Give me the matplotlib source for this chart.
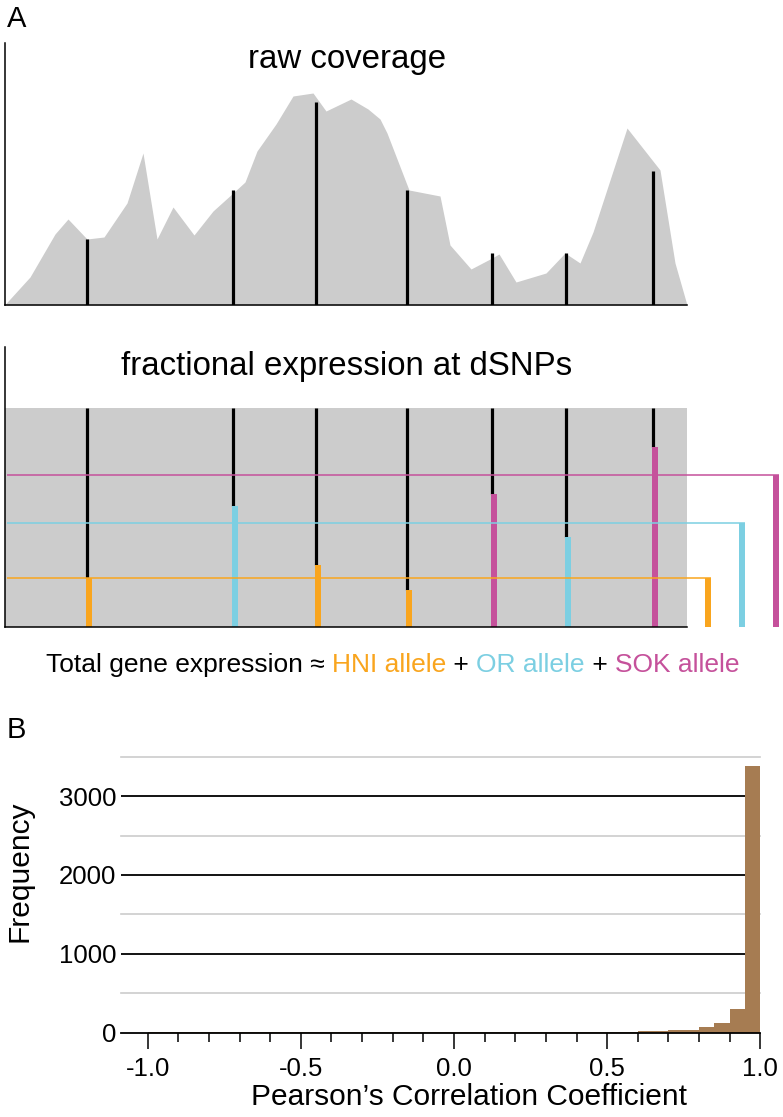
import matplotlib
matplotlib.use("Agg")
import matplotlib.pyplot as plt
import numpy as np

plt.rcParams['font.family'] = ['Liberation Sans', 'DejaVu Sans']
plt.rcParams['axes.unicode_minus'] = False

# ---------------- data ----------------
# raw coverage profile (position along gene, coverage)
cov_x = [0, 25.5, 50.5, 63.5, 82.5, 99.5, 122.5, 138.5, 152.5, 168.5, 189.5, 208.5,
         228.5, 240.5, 252.5, 271.5, 288.5, 308.5, 321.5, 346.5, 363.5, 375.5, 382.5,
         404.5, 435.5, 445.5, 466.5, 487.5, 494.5, 511.5, 541.5, 560.5, 575.5, 588.5,
         622.5, 655.5, 670.5, 682.5]
cov_y = [0, 28, 71, 86, 66, 68, 102, 152, 66, 98, 70, 94,
         112, 123, 154, 181, 209, 212, 194, 206, 196, 186, 172,
         115, 109, 60, 36, 47, 51, 23, 32, 52, 42, 73,
         177, 135, 42, 0]

# dSNP positions and raw coverage at each dSNP
snp_pos = [82.5, 228.5, 311.5, 402.5, 487.5, 561.5, 648.5]
snp_cov = [66, 115, 203, 115, 52, 52, 134]
# allele each dSNP tags and fractional expression
snp_allele = ['HNI', 'OR', 'HNI', 'HNI', 'SOK', 'OR', 'SOK']
snp_frac = [0.224, 0.553, 0.283, 0.169, 0.607, 0.411, 0.822]

alleles = ['HNI', 'OR', 'SOK']
allele_total = [0.222, 0.476, 0.694]
allele_colors = ['#F9A51E', '#7CCFE2', '#C5519B']
allele_bar_x = [703.5, 737.0, 771.0]

# histogram of Pearson correlation coefficients (bin width 0.05)
bin_left = [round(-1.0 + 0.05 * i, 2) for i in range(40)]
counts = [4, 3, 3, 3, 3, 3, 3, 3, 3, 3, 4, 4, 4, 4, 4, 5, 5, 5, 6, 6,
          6, 6, 7, 7, 8, 8, 9, 10, 11, 12,
          12, 8, 20, 20, 38, 38, 76, 123, 297, 3385]

xticks_major = [-1.0, -0.5, 0.0, 0.5, 1.0]
xtick_labels = ['-1.0', '-0.5', '0.0', '0.5', '1.0']
yticks_major = [0, 1000, 2000, 3000]

# ---------------- figure ----------------
W, H = 783, 1117
fig = plt.figure(figsize=(W / 100, H / 100), dpi=100)


def rect(l, t, r, b):
    return [l / W, 1 - b / H, (r - l) / W, (b - t) / H]


gray = '#CCCCCC'

# ---- panel A top: raw coverage ----
ax1 = fig.add_axes(rect(4.5, 43, 687, 305))
ax1.fill_between(cov_x, cov_y, 0, color=gray, lw=0)
ax1.vlines(snp_pos, 0, snp_cov, color='black', lw=2.3)
ax1.set_xlim(0, 682.5)
ax1.set_ylim(0, 262)
for s in ['top', 'right']:
    ax1.spines[s].set_visible(False)
for s in ['left', 'bottom']:
    ax1.spines[s].set_linewidth(1.1)
ax1.set_xticks([])
ax1.set_yticks([])
ax1.patch.set_alpha(0)

# ---- panel A middle: fractional expression ----
ax2 = fig.add_axes(rect(4.5, 347, 687, 627))
ax2.set_xlim(0, 682.5)
ax2.set_ylim(0, 280 / 219)
ax2.fill_between([0.5, 682.5], 0, 1.0, color=gray, lw=0, zorder=1)
col = dict(zip(alleles, allele_colors))
ax2.vlines(snp_pos, snp_frac, 1.0, color='black', lw=2.3, zorder=2)
ax2.bar([p - 1.5 for p in snp_pos], snp_frac, width=6.5, align='edge',
        color=[col[a] for a in snp_allele], lw=0, zorder=2)
for tot, c, bx in zip(allele_total, allele_colors, allele_bar_x):
    ax2.plot([2.5, bx + 3], [tot, tot], color=c, lw=1.1, zorder=3,
             clip_on=False, solid_capstyle='butt')
    ax2.bar([bx - 3], [tot], width=6, align='edge', color=c, lw=0,
            zorder=3, clip_on=False)
for s in ['top', 'right']:
    ax2.spines[s].set_visible(False)
for s in ['left', 'bottom']:
    ax2.spines[s].set_linewidth(1.1)
    ax2.spines[s].set_zorder(4)
ax2.set_xticks([])
ax2.set_yticks([])
ax2.patch.set_alpha(0)

# titles
fig.text(347.5 / W, 1 - 68 / H, 'raw coverage', ha='center', va='baseline', fontsize=23.8)
fig.text(347 / W, 1 - 375 / H, 'fractional expression at dSNPs', ha='center',
         va='baseline', fontsize=23.8)
fig.text(7 / W, 1 - 27 / H, 'A', ha='left', va='baseline', fontsize=21)
fig.text(7 / W, 1 - 738 / H, 'B', ha='left', va='baseline', fontsize=21)

# multicolour equation line
pieces = [('Total gene expression \u2248 ', 'black'),
          ('HNI allele', allele_colors[0]), (' + ', 'black'),
          ('OR allele', allele_colors[1]), (' + ', 'black'),
          ('SOK allele', allele_colors[2])]
renderer = fig.canvas.get_renderer()
texts = []
x = 0
base_y = 1 - 672 / H
for s, c in pieces:
    t = fig.text(x, base_y, s, color=c, fontsize=19, ha='left', va='baseline')
    bb = t.get_window_extent(renderer=renderer)
    texts.append((t, x))
    x += bb.width / W
total_w = x
start = 392.5 / W - total_w / 2
for t, x0 in texts:
    t.set_x(start + x0)

# ---- panel B: histogram ----
ax3 = fig.add_axes(rect(120.7, 756.7, 760.3, 1032.7))
ax3.set_xlim(-1.088, 1.0)
ax3.set_ylim(0, 3500)
for yv in [500, 1500, 2500, 3500]:
    ax3.axhline(yv, color='#CCCCCC', lw=1.2, zorder=1, clip_on=False)
for yv in [1000, 2000, 3000]:
    ax3.axhline(yv, color='black', lw=1.3, zorder=1)
ax3.bar(bin_left, counts, width=0.05, align='edge', color='#A67C52', lw=0, zorder=2)
for s in ['top', 'right', 'left']:
    ax3.spines[s].set_visible(False)
ax3.spines['bottom'].set_linewidth(1.3)
ax3.spines['bottom'].set_zorder(3)
ax3.set_xticks(xticks_major)
ax3.set_xticklabels(xtick_labels)
ax3.set_xticks([round(-1.0 + 0.1 * i, 1) for i in range(21)], minor=True)
ax3.tick_params(axis='x', which='major', direction='out', length=11.5, width=1.1,
                labelsize=18.5, pad=6)
ax3.tick_params(axis='x', which='minor', direction='out', length=6.5, width=1.1)
ax3.set_yticks(yticks_major)
ax3.tick_params(axis='y', which='major', length=0, labelsize=18.5, pad=3)
ax3.patch.set_alpha(0)

fig.text(20 / W, 1 - 871 / H, 'Frequency', rotation=90, ha='center', va='center',
         fontsize=21.5)
fig.text(469 / W, 1 - 1097 / H, 'Pearson\u2019s Correlation Coefficient', ha='center',
         va='center', fontsize=21.5)

fig.savefig('out.png', dpi=100)
